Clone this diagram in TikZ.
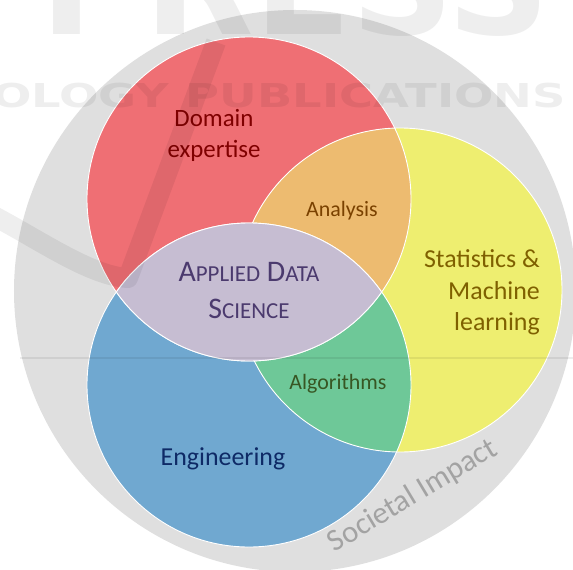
\documentclass[tikz,border=0pt]{standalone}
\usepackage{fontspec}
\setmainfont{Carlito}
\newfontfamily\wmfont{DejaVu Sans}
\definecolor{cgrey}{HTML}{DFDFDF}
\definecolor{cred}{HTML}{EF6F74}
\definecolor{cyel}{HTML}{EEEE70}
\definecolor{cblue}{HTML}{70A8D0}
\definecolor{corange}{HTML}{EDBB70}
\definecolor{cgreen}{HTML}{6EC898}
\definecolor{cpurple}{HTML}{C6BDD2}
\definecolor{tred}{HTML}{800000}
\definecolor{tbrown}{HTML}{7A4100}
\definecolor{tolive}{HTML}{7F6000}
\definecolor{tgreen}{HTML}{375623}
\definecolor{tnavy}{HTML}{0E2A66}
\definecolor{tpurple}{HTML}{4B3A6E}
\definecolor{tgrey}{HTML}{A3A3A3}
\begin{document}
\begin{tikzpicture}[x=1bp,y=-1bp,
  lbl/.style={inner sep=0pt, anchor=base, font=\fontsize{#1}{#1}\selectfont},
  rim/.style={draw=white, line width=0.9bp},
  wm/.style={inner sep=0pt, text=black, text opacity=0.065, font=\wmfont\bfseries\fontsize{#1}{#1}\selectfont}]
\useasboundingbox (0,0) rectangle (573,570);
\clip (0,0) rectangle (573,570);
\coordinate (G) at (295,291);
\coordinate (R) at (249,199);
\coordinate (B) at (249,385);
\coordinate (Y) at (400,290);
% societal impact disc
\fill[cgrey] (G) circle[radius=281bp];
% three main circles
\fill[cred] (R) circle[radius=162bp];
\fill[cblue] (B) circle[radius=162bp];
\fill[cyel] (Y) circle[radius=162bp];
\begin{scope}
  \clip (R) circle[radius=162bp];
  \fill[corange] (Y) circle[radius=162bp];
\end{scope}
\begin{scope}
  \clip (B) circle[radius=162bp];
  \fill[cgreen] (Y) circle[radius=162bp];
\end{scope}
\draw[rim] (R) circle[radius=162bp];
\draw[rim] (B) circle[radius=162bp];
\draw[rim] (Y) circle[radius=162bp];
% central lens
\begin{scope}
  \clip (R) circle[radius=162bp];
  \fill[cpurple] (B) circle[radius=162bp];
  \draw[rim] (B) circle[radius=162bp];
\end{scope}
\begin{scope}
  \clip (B) circle[radius=162bp];
  \draw[rim] (R) circle[radius=162bp];
\end{scope}
% labels
\node[lbl=25, text=tred] (dom1) at (214,127) {Domain};
\node[lbl=25, text=tred] (dom2) at (214,158) {expertise};
\node[lbl=22, text=tbrown] (ana) at (342,216) {Analysis};
\node[lbl=30, text=tpurple] (ads1) at (249,281) {A{\fontsize{23}{23}\selectfont PPLIED} D{\fontsize{23}{23}\selectfont ATA}};
\node[lbl=30, text=tpurple] (ads2) at (249,318) {S{\fontsize{23}{23}\selectfont CIENCE}};
\node[lbl=26, text=tolive, anchor=base east] (st1) at (540,267) {Statistics \&};
\node[lbl=26, text=tolive, anchor=base east] (st2) at (540,299) {Machine};
\node[lbl=26, text=tolive, anchor=base east] (st3) at (540,330) {learning};
\node[lbl=22, text=tgreen] (alg) at (338,389) {Algorithms};
\node[lbl=26, text=tnavy] (eng) at (223,465) {Engineering};
\node[lbl=31, text=tgrey, rotate=31] (soc) at (417,503) {Societal Impact};
% faint watermark
\draw[black, opacity=0.065, line width=20bp, line join=round]
  (-10,214) .. controls (40,240) and (90,276) .. (128,278) -- (216,42);
\draw[black, opacity=0.07, line width=1.2bp] (20,358) -- (573,358);
\node[wm=140, anchor=base west] (wm1) at (40,35) {\scalebox{1.02}[1]{PRESS}};
\node[wm=33, anchor=base west] (wm2) at (-8,108) {\scalebox{1.41}[1]{OLOGY PUBLICATIONS}};
\end{tikzpicture}
\end{document}
